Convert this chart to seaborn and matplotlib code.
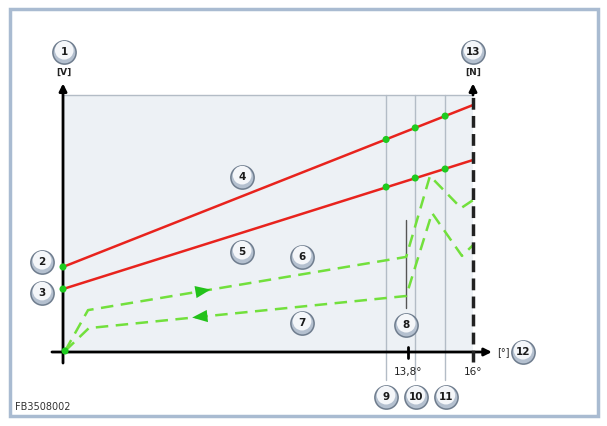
import numpy as np
import pandas as pd
import matplotlib
matplotlib.use("Agg")
import matplotlib.pyplot as plt
import seaborn as sns

sns.set_theme(style="white")
plt.rcParams["font.family"] = ["DejaVu Sans"]

# schematic coordinates: x 0..100 = angle axis up to 16°, y 0..100 = signal range
red_upper_x = [0, 100]
red_upper_y = [33.1, 96.1]
red_lower_x = [0, 100]
red_lower_y = [24.5, 74.7]

green_up_x = [0.5, 6.1, 83.7, 89.5, 97.1, 100]
green_up_y = [0.4, 16.3, 37.0, 68.5, 56.0, 59.1]
green_down_x = [0.5, 6.3, 83.7, 90.0, 97.3, 100]
green_down_y = [0.4, 9.3, 21.8, 54.1, 37.4, 41.6]

dot_x = [0, 0, 0.5, 78.8, 85.9, 93.2, 78.8, 85.9, 93.2]
dot_y = [33.1, 24.5, 0.4, 82.7, 87.2, 91.8, 64.2, 67.7, 71.2]

grid_x = [78.8, 85.9, 93.2]
tick_pos = [84.1, 100]
tick_labels = ["13,8°", "16°"]

# arrows on the green paths: (x, y, direction)
arrow_x = [34.1, 33.4]
arrow_y = [23.8, 13.7]
arrow_dir = [1, -1]

badge_text = ["1", "13", "2", "3", "4", "5", "6", "7", "8", "9", "10", "11", "12"]
badge_x = [0.3, 100, -5.1, -5.1, 43.7, 43.7, 58.3, 58.3, 83.7, 78.8, 86.1, 93.4, 112.2]
badge_y = [116.7, 116.7, 35.0, 23.0, 68.1, 38.9, 37.0, 11.3, 10.5, -17.5, -17.5, -17.5, 0]

RED = "#e8231d"
GREEN = "#72e03c"
DOT = "#1ecb1e"

fig = plt.figure(figsize=(6.07, 4.26), dpi=100)
ax = fig.add_axes([0, 0, 1, 1])
ax.set_xlim(-15.37, 132.68)
ax.set_ylim(-28.79, 136.96)
ax.axis("off")

# outer frame
ax.add_patch(plt.Rectangle((-13.0, -24.9), 143.4, 158.2, fill=False,
                           edgecolor="#a9bbd1", lw=2.5, zorder=0))
# shaded plot area
ax.add_patch(plt.Rectangle((0, 0), 100, 100, facecolor="#edf1f5",
                           edgecolor="none", zorder=0))
ax.plot([0, 100], [100, 100], color="#b3bcc6", lw=1, zorder=1)
for gx in grid_x:
    ax.plot([gx, gx], [100, -10.9], color="#b3bcc6", lw=1, zorder=1)

# axes with arrows
arrow_kw = dict(arrowstyle="-|>", color="black", lw=2, mutation_scale=11,
                shrinkA=0, shrinkB=0)
ax.annotate("", xy=(0, 104.5), xytext=(0, -4.3), arrowprops=arrow_kw, zorder=5)
ax.annotate("", xy=(104.6, 0), xytext=(-2.7, 0), arrowprops=arrow_kw, zorder=5)
ax.plot([100, 100], [-3.9, 100], color="#222222", lw=2.5,
        dashes=(3.4, 1.8), zorder=5)
ax.annotate("", xy=(100, 104.5), xytext=(100, 100), arrowprops=arrow_kw, zorder=5)

# 13,8° tick
ax.plot([tick_pos[0], tick_pos[0]], [1.9, -2.3], color="black", lw=2, zorder=5)
for tx, tl in zip(tick_pos, tick_labels):
    ax.text(tx, -7.8, tl, ha="center", va="center", fontsize=7.5,
            color="#222222")

# item 8 marker line
ax.plot([83.7, 83.7], [51.4, 17.1], color="#555555", lw=1, zorder=2)

# red lines
red = pd.DataFrame({"x": red_upper_x + red_lower_x,
                    "y": red_upper_y + red_lower_y,
                    "line": ["upper"] * 2 + ["lower"] * 2})
sns.lineplot(data=red, x="x", y="y", units="line", estimator=None,
             color=RED, lw=1.8, sort=False, ax=ax, zorder=3)

# green hysteresis paths
for gx_, gy_ in [(green_up_x, green_up_y), (green_down_x, green_down_y)]:
    sns.lineplot(x=gx_, y=gy_, color=GREEN, lw=1.8, sort=False,
                 estimator=None, ax=ax, zorder=3, dashes=False)
for line in ax.lines[-2:]:
    line.set_dashes((5, 3))

for axx, ayy, d in zip(arrow_x, arrow_y, arrow_dir):
    # direction along the path segment
    if d > 0:
        x0, y0, x1, y1 = green_up_x[1], green_up_y[1], green_up_x[2], green_up_y[2]
    else:
        x0, y0, x1, y1 = green_down_x[1], green_down_y[1], green_down_x[2], green_down_y[2]
    slope = (y1 - y0) / (x1 - x0)
    dx = 1.9 * d
    ax.annotate("", xy=(axx + dx, ayy + slope * dx),
                xytext=(axx - dx, ayy - slope * dx),
                arrowprops=dict(arrowstyle="-|>,head_length=0.55,head_width=0.22",
                                color="#22c21a", lw=0,
                                mutation_scale=20, shrinkA=0, shrinkB=0),
                zorder=4)

# green dots
sns.scatterplot(x=dot_x, y=dot_y, color=DOT, s=26, edgecolor="none",
                ax=ax, zorder=6)

# badges
badges = pd.DataFrame({"x": badge_x, "y": badge_y, "t": badge_text})
sns.scatterplot(data=badges, x="x", y="y", s=280, color="#b4c0cf",
                edgecolor="#6f7d8e", linewidth=1.1, ax=ax, zorder=7)
sns.scatterplot(x=badges["x"], y=badges["y"] + 0.7, s=180, color="#f4f6f9",
                edgecolor="none", ax=ax, zorder=8)
for _, r in badges.iterrows():
    ax.text(r.x, r.y, r.t, ha="center", va="center", fontsize=7.5,
            fontweight="bold", color="#1a1a1a", zorder=9)

ax.text(0.3, 109, "[V]", ha="center", va="center", fontsize=6.5,
        fontweight="bold", color="#222222")
ax.text(100, 109, "[N]", ha="center", va="center", fontsize=6.5,
        fontweight="bold", color="#222222")
ax.text(107.3, 0, "[°]", ha="center", va="center", fontsize=7,
        color="#222222")
ax.text(-11.7, -21.4, "FB3508002", ha="left", va="center", fontsize=7,
        color="#333333")

fig.savefig("out.png", dpi=100)
